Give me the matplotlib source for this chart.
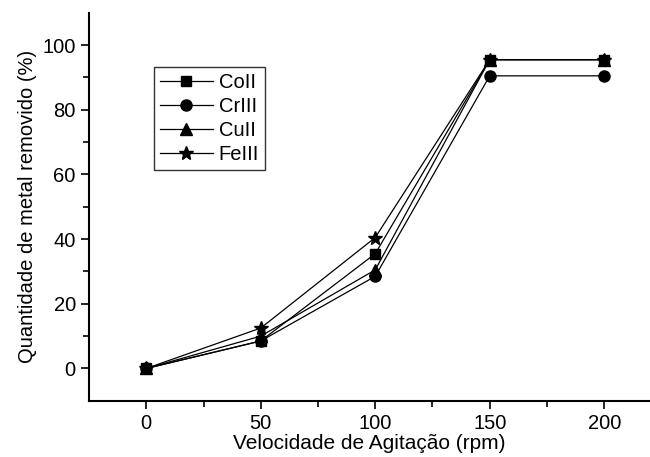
import numpy as np
import matplotlib.pyplot as plt

plt.rcParams['font.family'] = ['Liberation Sans', 'DejaVu Sans']

# agitation speed (rpm)
velocidade = [0, 50, 100, 150, 200]

# metal removed (%)
co_ii = [0, 8.5, 35.5, 95.5, 95.5]
cr_iii = [0, 8.5, 28.5, 90.5, 90.5]
cu_ii = [0, 10.0, 30.5, 95.5, 95.5]
fe_iii = [0, 12.5, 40.5, 95.5, 95.5]

series = [
    ('CoII', co_ii, 's', 7),
    ('CrIII', cr_iii, 'o', 8),
    ('CuII', cu_ii, '^', 8),
    ('FeIII', fe_iii, '*', 10),
]

fig = plt.figure(figsize=(6.5, 4.57), dpi=100)
ax = fig.add_axes([0.137, 0.123, 0.863, 0.849])

for label, vals, mk, ms in series:
    ax.plot(velocidade, vals, color='black', lw=0.9, marker=mk, ms=ms,
            markerfacecolor='black', markeredgecolor='black', label=label)

ax.set_xlim(-25, 220)
ax.set_ylim(-10, 110)
ax.set_xticks([0, 50, 100, 150, 200])
ax.set_xticks([25, 75, 125, 175], minor=True)
ax.set_yticks([0, 20, 40, 60, 80, 100])
ax.set_yticks([10, 30, 50, 70, 90], minor=True)

ax.spines['top'].set_visible(False)
ax.spines['right'].set_visible(False)
ax.spines['left'].set_linewidth(1.5)
ax.spines['bottom'].set_linewidth(1.5)
ax.tick_params(which='major', direction='out', length=6, width=1.2, labelsize=14.5)
ax.tick_params(which='minor', direction='out', length=4, width=1.2)

ax.set_xlabel('Velocidade de Agitação (rpm)', fontsize=15, labelpad=1)
ax.set_ylabel('Quantidade de metal removido (%)', fontsize=14.5, labelpad=4)

leg = ax.legend(loc='upper left', bbox_to_anchor=(0.116, 0.86), fontsize=14.5,
                frameon=True, fancybox=False, edgecolor='black',
                handlelength=2.6, borderpad=0.3, labelspacing=0.25,
                handletextpad=0.3, borderaxespad=0)
leg.get_frame().set_linewidth(1.0)

fig.savefig('out.png', dpi=100)
